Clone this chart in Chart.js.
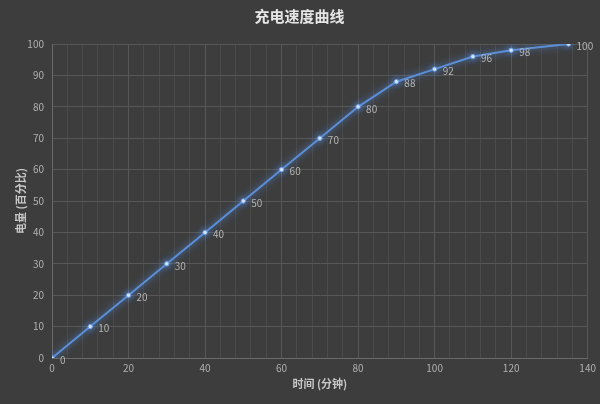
<!DOCTYPE html>
<html>
<head>
<meta charset="utf-8">
<script src="https://cdn.jsdelivr.net/npm/chart.js@4/dist/chart.umd.min.js"></script>
<style>
  html, body { margin: 0; padding: 0; background: #3d3d3d; }
  #wrap { width: 600px; height: 404px; }
</style>
</head>
<body>
<div id="wrap"><canvas id="chargeChart"></canvas></div>
<script>
// charging data: minutes vs battery percent
const minutes = [0, 10, 20, 30, 40, 50, 60, 70, 80, 90, 100, 110, 120, 135];
const percent = [0, 10, 20, 30, 40, 50, 60, 70, 80, 88, 92, 96, 98, 100];
const xTicks = [0, 20, 40, 60, 80, 100, 120, 140];
const yTicks = [0, 10, 20, 30, 40, 50, 60, 70, 80, 90, 100];

const CJK = "'Noto Sans CJK SC', 'Noto Sans', sans-serif";
Chart.defaults.font.family = CJK;

// small value labels next to each point
const valueLabels = {
    id: 'valueLabels',
    afterDatasetsDraw(chart) {
        const ctx = chart.ctx;
        const meta = chart.getDatasetMeta(0);
        ctx.save();
        ctx.font = "10px " + CJK;
        ctx.fillStyle = '#b4b4b4';
        ctx.textBaseline = 'middle';
        ctx.textAlign = 'left';
        meta.data.forEach((pt, i) => {
            ctx.fillText(String(percent[i]), pt.x + 8, pt.y + 2);
        });
        ctx.restore();
    }
};

// soft glow under the line
const glow = {
    id: 'glow',
    beforeDatasetDraw(chart) {
        chart.ctx.save();
        chart.ctx.shadowColor = 'rgba(90, 150, 240, 0.9)';
        chart.ctx.shadowBlur = 7;
    },
    afterDatasetDraw(chart) {
        chart.ctx.restore();
    }
};

new Chart(document.getElementById('chargeChart'), {
    type: 'line',
    data: {
        datasets: [{
            data: minutes.map((m, i) => ({ x: m, y: percent[i] })),
            borderColor: '#5b8fd8',
            borderWidth: 2,
            pointRadius: 2.2,
            pointBackgroundColor: '#e4eeff',
            pointBorderColor: '#6a9be0',
            pointBorderWidth: 1,
            tension: 0,
            fill: false
        }]
    },
    options: {
        responsive: true,
        maintainAspectRatio: false,
        animation: false,
        layout: { padding: { left: 10, right: 11, top: 0, bottom: 10 } },
        plugins: {
            legend: { display: false },
            tooltip: { enabled: false },
            title: {
                display: true,
                text: '充电速度曲线',
                color: '#e6e6e6',
                font: { size: 15, weight: 'bold', family: CJK },
                padding: { top: 7, bottom: 19 }
            }
        },
        scales: {
            x: {
                type: 'linear',
                min: 0,
                max: 140,
                afterBuildTicks(scale) {
                    const t = [];
                    for (let v = 0; v <= 140; v += 4) t.push({ value: v });
                    scale.ticks = t;
                },
                afterFit(scale) { scale.height = 36; },
                ticks: {
                    autoSkip: false,
                    maxRotation: 0,
                    color: '#b0b0b0',
                    font: { size: 10 },
                    padding: 4,
                    callback: v => xTicks.includes(v) ? String(v) : ''
                },
                grid: {
                    color: c => (c.tick && xTicks.includes(c.tick.value)) ? '#575757' : '#4a4a4a',
                    drawTicks: false
                },
                border: { color: '#6a6a6a' },
                title: {
                    display: true,
                    text: '时间 (分钟)',
                    color: '#c8c8c8',
                    font: { size: 11, weight: 'bold', family: CJK },
                    padding: { top: 4, bottom: 4 }
                }
            },
            y: {
                min: 0,
                max: 100,
                afterBuildTicks(scale) {
                    scale.ticks = yTicks.map(v => ({ value: v }));
                },
                afterFit(scale) { scale.width = 42; },
                ticks: {
                    color: '#b0b0b0',
                    font: { size: 10 },
                    padding: 8
                },
                grid: { color: '#575757', drawTicks: false },
                border: { color: '#6a6a6a' },
                title: {
                    display: true,
                    text: '电量 (百分比)',
                    color: '#c8c8c8',
                    font: { size: 11, weight: 'bold', family: CJK },
                    padding: { bottom: 4 }
                }
            }
        }
    },
    plugins: [glow, valueLabels]
});
</script>
</body>
</html>
